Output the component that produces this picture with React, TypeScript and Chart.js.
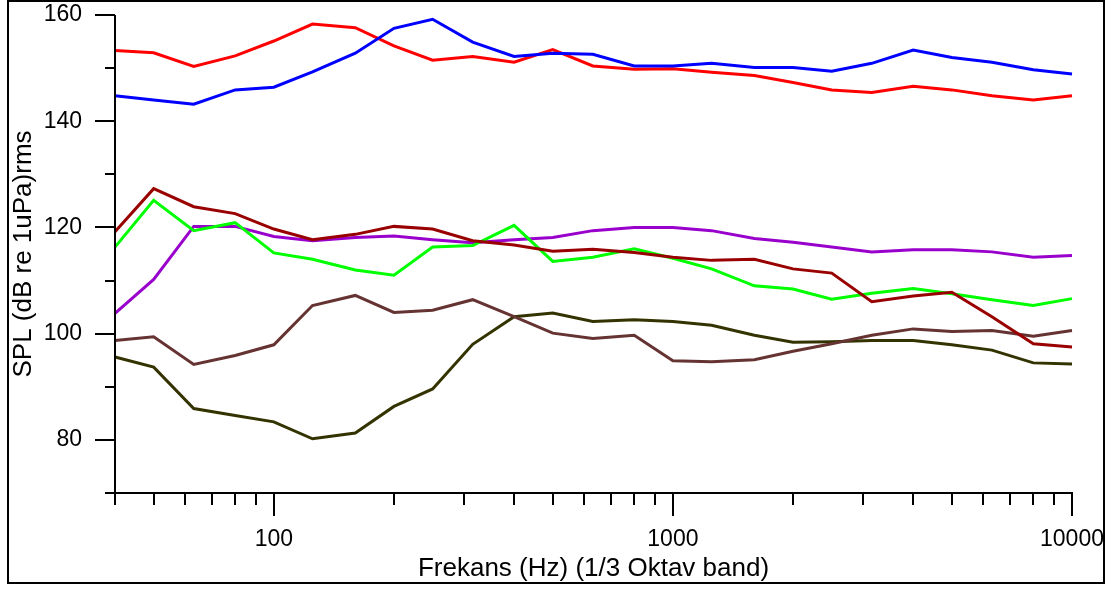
import { useEffect, useRef } from "react";
import Chart from "chart.js/auto";

const frequencies = [40, 50, 63, 80, 100, 125, 160, 200, 250, 315, 400, 500, 630, 800, 1000, 1250, 1600, 2000, 2500, 3150, 4000, 5000, 6300, 8000, 10000];

const blueSeries = [144.8, 144.0, 143.2, 145.9, 146.4, 149.3, 152.8, 157.5, 159.2, 154.9, 152.2, 152.8, 152.6, 150.4, 150.4, 150.9, 150.1, 150.1, 149.4, 150.9, 153.4, 152.0, 151.1, 149.7, 148.9];
const redSeries = [153.3, 152.9, 150.3, 152.3, 155.1, 158.3, 157.6, 154.2, 151.5, 152.2, 151.1, 153.5, 150.4, 149.8, 149.9, 149.2, 148.6, 147.3, 145.9, 145.4, 146.6, 145.9, 144.8, 144.0, 144.8];
const darkRedSeries = [119.2, 127.3, 123.9, 122.6, 119.7, 117.7, 118.7, 120.2, 119.7, 117.5, 116.7, 115.5, 115.9, 115.3, 114.4, 113.8, 114.0, 112.2, 111.4, 106.0, 107.1, 107.8, 103.2, 98.1, 97.5];
const greenSeries = [116.3, 125.1, 119.4, 120.9, 115.2, 114.0, 112.0, 111.0, 116.3, 116.6, 120.4, 113.6, 114.4, 116.0, 114.2, 112.2, 109.0, 108.4, 106.5, 107.6, 108.5, 107.5, 106.4, 105.3, 106.6];
const purpleSeries = [103.8, 110.2, 120.2, 120.2, 118.3, 117.5, 118.1, 118.4, 117.7, 117.1, 117.7, 118.1, 119.4, 120.0, 120.0, 119.4, 117.9, 117.2, 116.3, 115.4, 115.8, 115.8, 115.4, 114.4, 114.7];
const brownSeries = [98.7, 99.4, 94.2, 95.9, 97.9, 105.3, 107.2, 104.0, 104.4, 106.4, 103.2, 100.1, 99.1, 99.7, 94.9, 94.7, 95.1, 96.7, 98.1, 99.7, 100.9, 100.4, 100.6, 99.5, 100.6];
const oliveSeries = [95.6, 93.7, 85.9, 84.6, 83.4, 80.2, 81.3, 86.3, 89.6, 98.0, 103.2, 103.9, 102.3, 102.6, 102.3, 101.6, 99.7, 98.4, 98.5, 98.7, 98.7, 97.9, 96.9, 94.5, 94.3];

const xTickValues = [40, 50, 60, 70, 80, 90, 100, 200, 300, 400, 500, 600, 700, 800, 900, 1000, 2000, 3000, 4000, 5000, 6000, 7000, 8000, 9000, 10000];
const xLabelValues = [100, 1000, 10000];
const yLabelValues = [80, 100, 120, 140, 160];

const xTitle = "Frekans (Hz) (1/3 Oktav band)";
const yTitle = "SPL (dB re 1uPa)rms";

const FONT = "'Liberation Sans', Arial, sans-serif";

const axesPlugin = {
  id: "customAxes",
  afterDraw(chart: any) {
    const ctx = chart.ctx;
    const { left, right, top, bottom } = chart.chartArea;
    const xs = chart.scales.x;
    const ys = chart.scales.y;
    ctx.save();
    ctx.strokeStyle = "#000";
    ctx.lineWidth = 2;
    ctx.lineCap = "butt";
    ctx.beginPath();
    ctx.moveTo(left, top);
    ctx.lineTo(left, bottom + 1);
    ctx.moveTo(left - 1, bottom);
    ctx.lineTo(right + 1, bottom);
    ys.ticks.forEach((t: any) => {
      const py = Math.round(ys.getPixelForValue(t.value));
      const len = yLabelValues.includes(t.value) ? 20 : 10;
      ctx.moveTo(left - len, py);
      ctx.lineTo(left, py);
    });
    xs.ticks.forEach((t: any) => {
      const px = Math.round(xs.getPixelForValue(t.value));
      const len = xLabelValues.includes(t.value) ? 23 : 12;
      ctx.moveTo(px, bottom);
      ctx.lineTo(px, bottom + len);
    });
    ctx.stroke();
    ctx.strokeRect(8, 1, 1096, 582);
    ctx.restore();
  },
};

function makeData(values: number[]) {
  return frequencies.map((f, i) => ({ x: f, y: values[i] }));
}

function zeroPadding(scale: any) {
  scale.paddingTop = 0;
  scale.paddingBottom = 0;
  scale.paddingLeft = 0;
  scale.paddingRight = 0;
}

export default function App() {
  const canvasRef = useRef<HTMLCanvasElement | null>(null);

  useEffect(() => {
    document.body.style.margin = "0";
    const canvas = canvasRef.current;
    if (!canvas) return;
    Chart.defaults.font.family = FONT;
    Chart.defaults.color = "#000";

    const series = [
      { label: "Seri 1", values: blueSeries, color: "#0000FF" },
      { label: "Seri 2", values: redSeries, color: "#FF0000" },
      { label: "Seri 3", values: darkRedSeries, color: "#990000" },
      { label: "Seri 4", values: greenSeries, color: "#00FF00" },
      { label: "Seri 5", values: purpleSeries, color: "#9900CC" },
      { label: "Seri 6", values: brownSeries, color: "#663333" },
      { label: "Seri 7", values: oliveSeries, color: "#333300" },
    ];

    const chart = new Chart(canvas, {
      type: "line",
      data: {
        datasets: series.map((s) => ({
          label: s.label,
          data: makeData(s.values),
          borderColor: s.color,
          backgroundColor: s.color,
          borderWidth: 3,
          pointRadius: 0,
          tension: 0,
          fill: false,
          clip: false as any,
        })),
      },
      options: {
        animation: false,
        responsive: false,
        devicePixelRatio: 1,
        layout: { padding: { left: 0, top: 15, right: 39, bottom: 0 } },
        plugins: {
          legend: { display: false },
          tooltip: { enabled: false },
        },
        scales: {
          x: {
            type: "logarithmic",
            min: 40,
            max: 10000,
            afterBuildTicks: (scale: any) => {
              scale.ticks = xTickValues.map((v) => ({ value: v }));
            },
            afterFit: (scale: any) => {
              scale.height = 97;
              zeroPadding(scale);
            },
            grid: { display: false, drawTicks: false },
            border: { display: false },
            ticks: {
              autoSkip: false,
              maxRotation: 0,
              minRotation: 0,
              padding: 33,
              font: { size: 23, family: FONT },
              color: "#000",
              callback: (value: any) => (xLabelValues.includes(Number(value)) ? String(value) : ""),
            },
            title: {
              display: true,
              text: xTitle,
              color: "#000",
              font: { size: 26, family: FONT },
              padding: { top: 0, bottom: 6 },
            },
          },
          y: {
            type: "linear",
            min: 70,
            max: 160,
            afterFit: (scale: any) => {
              scale.width = 115;
              zeroPadding(scale);
            },
            grid: { display: false, drawTicks: false },
            border: { display: false },
            ticks: {
              stepSize: 10,
              padding: 33,
              font: { size: 23, family: FONT },
              color: "#000",
              callback: (value: any) => (yLabelValues.includes(Number(value)) ? String(value) : ""),
            },
            title: {
              display: true,
              text: yTitle,
              color: "#000",
              font: { size: 26, family: FONT },
              padding: { top: 8, bottom: 0 },
            },
          },
        },
      },
      plugins: [axesPlugin],
    });

    return () => chart.destroy();
  }, []);

  return (
    <div style={{ width: 1111, height: 590, position: "relative", background: "#fff" }}>
      <canvas ref={canvasRef} width={1111} height={590} style={{ display: "block" }} />
    </div>
  );
}
